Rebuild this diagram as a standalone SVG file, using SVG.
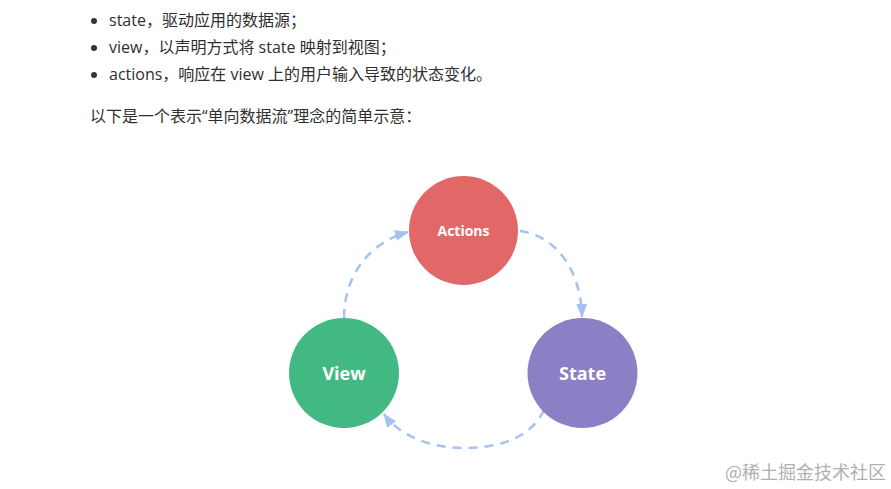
<svg xmlns="http://www.w3.org/2000/svg" width="891" height="489" viewBox="0 0 891 489">
<style>
.t{font-family:"Open Sans","Noto Sans CJK SC",sans-serif;font-size:16px;fill:#2f2f2f}
.lbl{font-family:"Open Sans","Noto Sans",sans-serif;font-weight:bold;fill:#fff;text-anchor:middle}
.edge{fill:none;stroke:#a6c3ee;stroke-width:2.5;stroke-dasharray:9 7}
.wm{font-family:"Noto Sans CJK SC",sans-serif;font-size:18px;fill:#b0b0b0}
</style>
<defs>
<marker id="ah" viewBox="0 0 14 11" refX="13" refY="5.5" markerWidth="14" markerHeight="11" markerUnits="userSpaceOnUse" orient="auto">
<path d="M0,0 L14,5.5 L0,11 z" fill="#a6c3ee"/>
</marker>
</defs>
<rect width="891" height="489" fill="#fff"/>
<g id="text">
<circle cx="94" cy="21" r="3" fill="#333"/>
<text class="t" x="109" y="26">state，驱动应用的数据源；</text>
<circle cx="94" cy="48" r="3" fill="#333"/>
<text class="t" x="109" y="53">view，以声明方式将 state 映射到视图；</text>
<circle cx="94" cy="75" r="3" fill="#333"/>
<text class="t" x="109" y="80">actions，响应在 view 上的用户输入导致的状态变化。</text>
<text class="t" x="90" y="122">以下是一个表示“单向数据流”理念的简单示意：</text>
</g>
<g id="connectors">
<path class="edge" d="M344,318 C344,280 365,244 408,232" marker-end="url(#ah)"/>
<path class="edge" d="M520,231 C556,236 581,270 582,317" marker-end="url(#ah)"/>
<path class="edge" d="M544,410 C530,440 495,448 465,448 C430,448 400,436 384,414" marker-end="url(#ah)"/>
</g>
<g id="actions">
<circle cx="463.5" cy="230.5" r="54.5" fill="#e26868"/>
<text class="lbl" x="463.5" y="236" font-size="14">Actions</text>
</g>
<g id="view">
<circle cx="344" cy="373" r="55" fill="#42b983"/>
<text class="lbl" x="344" y="380" font-size="18">View</text>
</g>
<g id="state">
<circle cx="582.5" cy="373" r="55" fill="#8c7fc5"/>
<text class="lbl" x="582.5" y="380" font-size="18">State</text>
</g>
<text class="wm" x="725" y="479">@稀土掘金技术社区</text>
</svg>
